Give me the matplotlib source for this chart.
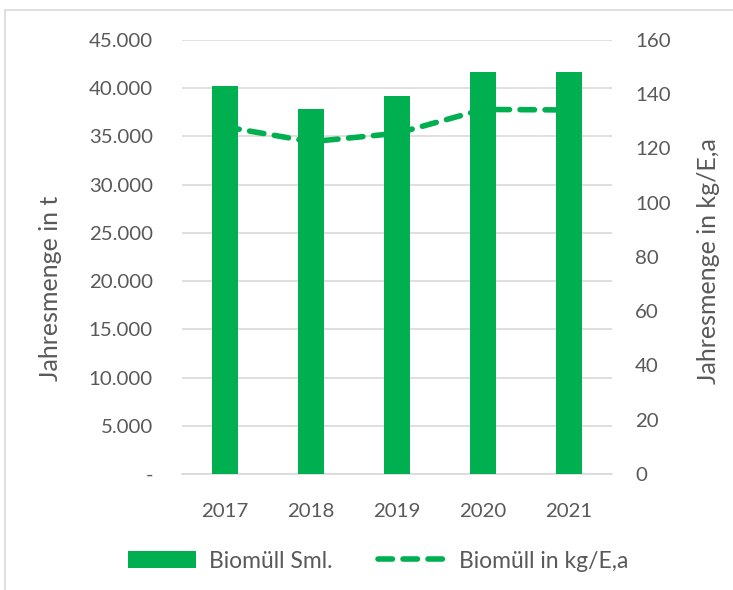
import matplotlib.pyplot as plt
import matplotlib.patches as mpatches
from matplotlib.ticker import FuncFormatter, MultipleLocator

# data
years = ['2017', '2018', '2019', '2020', '2021']
biomuell_t = [40180, 37860, 39180, 41730, 41670]
biomuell_kg = [128.0, 122.5, 125.6, 134.4, 134.2]

green = '#00B050'
textgray = '#595959'
gridgray = '#D9D9D9'

plt.rcParams['font.family'] = ['Lato', 'DejaVu Sans']
plt.rcParams['font.size'] = 14.7

W, H = 733, 590
fig = plt.figure(figsize=(W / 100, H / 100), dpi=100)
ax = fig.add_axes([182 / W, 1 - 474 / H, 430 / W, 434 / H])

# chart frame like the office export
fig.patches.append(mpatches.Rectangle((5 / W, -0.05), 1.0, 1 - 10 / H + 0.05,
                                      transform=fig.transFigure, fill=False,
                                      edgecolor='#D9D9D9', linewidth=1.2))

x = list(range(len(years)))
ax.bar(x, biomuell_t, width=0.31, color=green, zorder=3, label='Biomüll Sml.')
ax.set_ylim(0, 45000)
ax.set_xlim(-0.5, len(years) - 0.5)
ax.yaxis.set_major_locator(MultipleLocator(5000))


def fmt_t(v, pos):
    if v == 0:
        return '-'
    return f'{int(v):,}'.replace(',', '.')


ax.yaxis.set_major_formatter(FuncFormatter(fmt_t))
ax.set_xticks(x)
ax.set_xticklabels(years)
ax.grid(axis='y', color=gridgray, linewidth=1.2, zorder=0)
for s in ['top', 'right', 'left']:
    ax.spines[s].set_visible(False)
ax.spines['bottom'].set_color(gridgray)
ax.spines['bottom'].set_linewidth(1.2)
ax.tick_params(length=0, colors=textgray, labelsize=14.7)
ax.tick_params(axis='y', pad=21)
ax.tick_params(axis='x', pad=21)

ax2 = ax.twinx()
ax2.plot(x, biomuell_kg, color=green, linestyle=(0, (2.6, 1.9)), linewidth=4,
         dash_capstyle='round', zorder=4, label='Biomüll in kg/E,a')
ax2.set_ylim(0, 160)
ax2.yaxis.set_major_locator(MultipleLocator(20))
for s in ['top', 'right', 'left', 'bottom']:
    ax2.spines[s].set_visible(False)
ax2.tick_params(length=0, colors=textgray, labelsize=14.7, pad=16.5)

# axis titles placed like in the reference
fig.text(51 / W, 1 - 288 / H, 'Jahresmenge in t', rotation=90, ha='center',
         va='center', color=textgray, fontsize=18)
fig.text(708 / W, 1 - 261 / H, 'Jahresmenge in kg/E,a', rotation=90, ha='center',
         va='center', color=textgray, fontsize=18)

h1, l1 = ax.get_legend_handles_labels()
h2, l2 = ax2.get_legend_handles_labels()
leg = fig.legend(h1 + h2, l1 + l2, loc='center', bbox_to_anchor=(378 / W, 1 - 561 / H),
                 ncol=2, frameon=False, fontsize=16.5, handlelength=2.97,
                 columnspacing=1.96, handletextpad=0.57)
for t in leg.get_texts():
    t.set_color(textgray)

fig.savefig('out.png', dpi=100)
